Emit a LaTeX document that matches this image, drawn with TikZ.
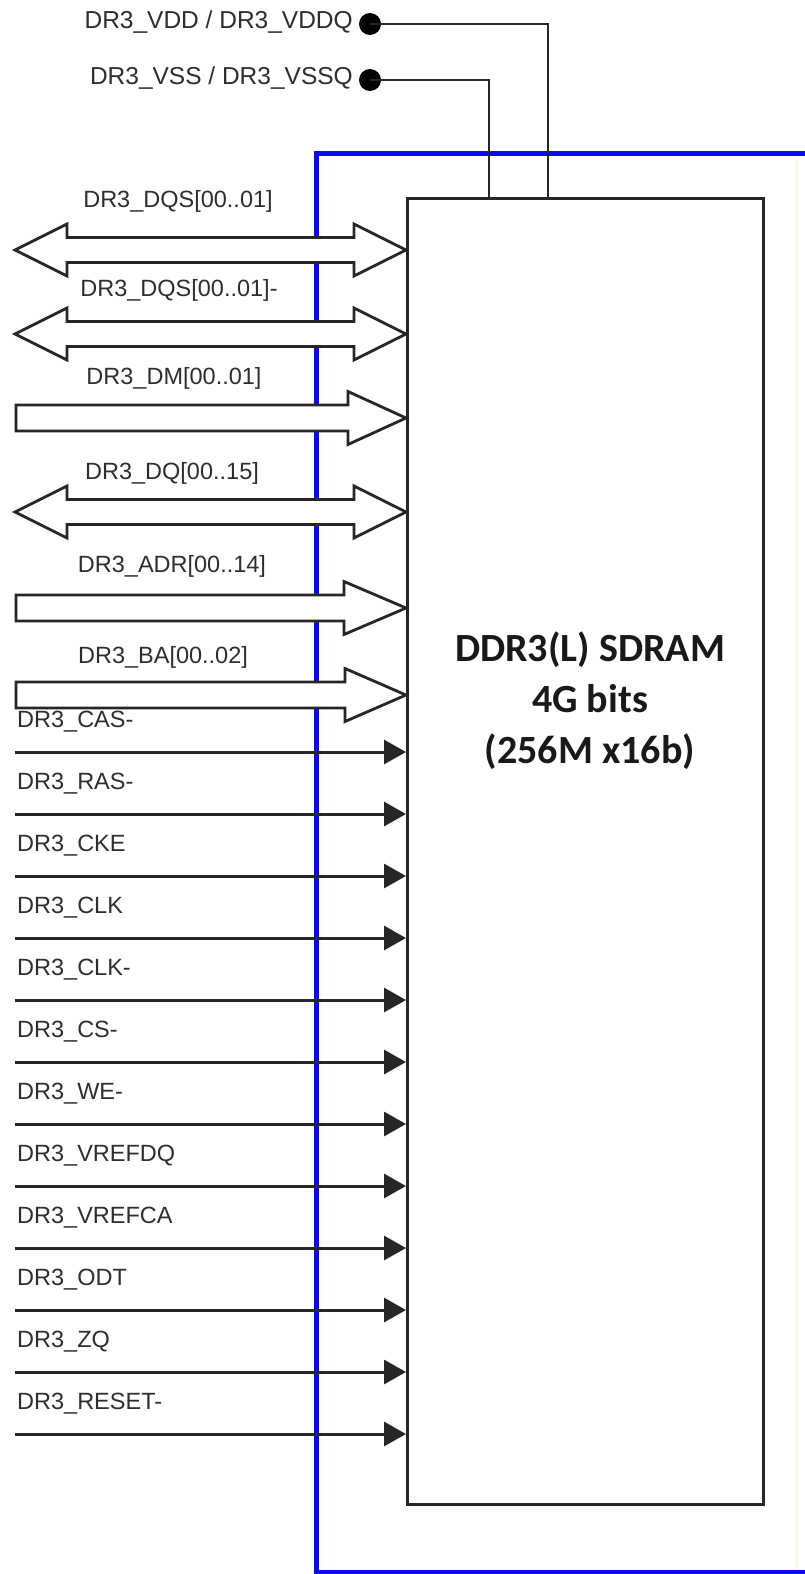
\documentclass[tikz,border=0pt]{standalone}
\usepackage{fontspec}
\setmainfont{Liberation Sans}
\newfontfamily\chipfont{Carlito}
\usetikzlibrary{arrows.meta}
\definecolor{txt}{HTML}{2E2E2E}
\definecolor{frameblue}{HTML}{0A0AF0}
\definecolor{faintyellow}{HTML}{FBF6E2}
\tikzset{
  lbl/.style={font=\fontsize{23.5}{26}\selectfont, text=txt, inner sep=0pt},
  toplbl/.style={font=\fontsize{24.5}{27}\selectfont, text=txt, inner sep=0pt},
  bus/.style={draw=black!85, line width=2.8pt, fill=white, line join=miter},
  sig/.style={draw=black!85, line width=3pt, -{Triangle[length=22pt,width=24pt]}},
  pwr/.style={draw=black!85, line width=2.8pt},
  dot/.style={circle, fill=black, inner sep=0pt, minimum size=22pt},
  chipbox/.style={draw=black!85, line width=3pt, fill=white, inner sep=0pt, anchor=north west,
                  minimum width=356pt, minimum height=1306pt},
}
% double-headed bus arrow: #1 centre y
\newcommand{\dbus}[1]{%
  \draw[bus] (15,#1) -- (67,#1-26) -- (67,#1-12.5) -- (354,#1-12.5) -- (354,#1-26)
    -- (chip.west |- 0,#1) -- (354,#1+26) -- (354,#1+12.5) -- (67,#1+12.5) -- (67,#1+26) -- cycle;}
% single-headed bus arrow: #1 centre y, #2 head base x
\newcommand{\sbus}[2]{%
  \draw[bus] (16,#1-13) -- (#2,#1-13) -- (#2,#1-26.5)
    -- (chip.west |- 0,#1) -- (#2,#1+26.5) -- (#2,#1+13) -- (16,#1+13) -- cycle;}
\begin{document}
\begin{tikzpicture}[x=1pt,y=-1pt]
\useasboundingbox (0,0) rectangle (805,1574);
\fill[white] (0,0) rectangle (805,1574);
% faint right edge
\draw[faintyellow, line width=2pt] (797,160) -- (797,1574);
% blue frame
\draw[frameblue, line width=5pt] (805,153) -- (316,153) -- (316,1572) -- (805,1572);
% chip
\node[chipbox] (chip) at (406,197) {};
\node[font=\chipfont\bfseries\fontsize{40}{51}\selectfont, align=center, text=black!90, inner sep=0pt]
  (chiptxt) at (590,701) {DDR3(L) SDRAM\\4G bits\\(256M x16b)};
% power pins
\node[dot] (vdd) at (370,24) {};
\node[dot] (vss) at (370,80) {};
\node[toplbl, anchor=east] (vddl) at (353,22) {DR3\_VDD / DR3\_VDDQ};
\node[toplbl, anchor=east] (vssl) at (353,78) {DR3\_VSS / DR3\_VSSQ};
\coordinate (vddc) at (548,24);
\coordinate (vssc) at (489,80);
\draw[pwr] (vdd.center) -- (vddc) -- (chip.north -| vddc);
\draw[pwr] (vss.center) -- (vssc) -- (chip.north -| vssc);
% bus arrows
\dbus{250}
\dbus{334}
\sbus{418}{348}
\dbus{512}
\sbus{608}{344}
\sbus{695}{345}
\node[lbl] (lqs) at (178,201) {DR3\_DQS[00..01]};
\node[lbl] (lqsn) at (179,290) {DR3\_DQS[00..01]-};
\node[lbl] (ldm) at (174,378) {DR3\_DM[00..01]};
\node[lbl] (ldq) at (172,473) {DR3\_DQ[00..15]};
\node[lbl] (ladr) at (172,566) {DR3\_ADR[00..14]};
\node[lbl] (lba) at (163,657) {DR3\_BA[00..02]};
% single signals
\foreach \nm [count=\i from 0] in {CAS-,RAS-,CKE,CLK,CLK-,CS-,WE-,VREFDQ,VREFCA,ODT,ZQ,RESET-}{
  \coordinate (s\i) at (15,752+62*\i);
  \draw[sig] (s\i) -- (chip.west |- s\i);
  \node[lbl, anchor=west] (l\i) at (17,752+62*\i-30) {DR3\_\nm};
}
\end{tikzpicture}
\end{document}
